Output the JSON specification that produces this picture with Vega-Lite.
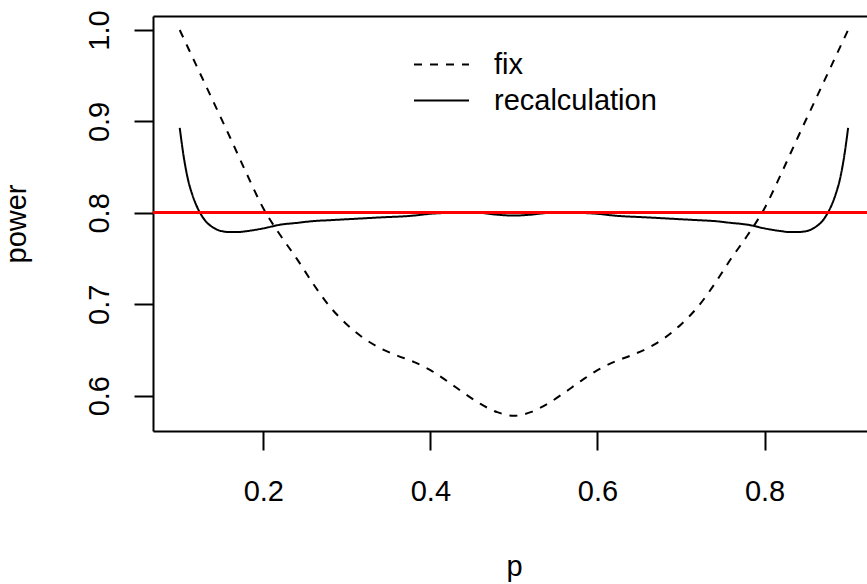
{
  "$schema": "https://vega.github.io/schema/vega-lite/v6.json",
  "width": 714,
  "height": 415,
  "autosize": {"type": "none"},
  "padding": {"left": 153, "top": 16, "right": 0, "bottom": 153},
  "background": "white",
  "config": {
    "view": {"stroke": null},
    "font": "Liberation Sans",
    "axis": {
      "grid": false,
      "domainColor": "black",
      "domainWidth": 2,
      "tickColor": "black",
      "tickWidth": 2,
      "tickSize": 19,
      "labelFont": "Liberation Sans",
      "labelFontSize": 29,
      "labelColor": "black",
      "titleFont": "Liberation Sans",
      "titleFontSize": 29,
      "titleColor": "black",
      "titleFontWeight": "normal",
      "labelFlush": false,
      "labelOverlap": false
    },
    "legend": {
      "labelFont": "Liberation Sans"
    }
  },
  "data": {
    "values": [
      {"p": 0.10, "power": 1.000, "method": "fix"},
      {"p": 0.12, "power": 0.961, "method": "fix"},
      {"p": 0.14, "power": 0.922, "method": "fix"},
      {"p": 0.16, "power": 0.883, "method": "fix"},
      {"p": 0.18, "power": 0.843, "method": "fix"},
      {"p": 0.20, "power": 0.805, "method": "fix"},
      {"p": 0.22, "power": 0.776, "method": "fix"},
      {"p": 0.24, "power": 0.750, "method": "fix"},
      {"p": 0.26, "power": 0.722, "method": "fix"},
      {"p": 0.28, "power": 0.697, "method": "fix"},
      {"p": 0.30, "power": 0.678, "method": "fix"},
      {"p": 0.32, "power": 0.663, "method": "fix"},
      {"p": 0.34, "power": 0.652, "method": "fix"},
      {"p": 0.36, "power": 0.644, "method": "fix"},
      {"p": 0.38, "power": 0.637, "method": "fix"},
      {"p": 0.40, "power": 0.628, "method": "fix"},
      {"p": 0.42, "power": 0.616, "method": "fix"},
      {"p": 0.44, "power": 0.603, "method": "fix"},
      {"p": 0.46, "power": 0.591, "method": "fix"},
      {"p": 0.48, "power": 0.582, "method": "fix"},
      {"p": 0.50, "power": 0.578, "method": "fix"},
      {"p": 0.52, "power": 0.582, "method": "fix"},
      {"p": 0.54, "power": 0.591, "method": "fix"},
      {"p": 0.56, "power": 0.603, "method": "fix"},
      {"p": 0.58, "power": 0.616, "method": "fix"},
      {"p": 0.60, "power": 0.628, "method": "fix"},
      {"p": 0.62, "power": 0.637, "method": "fix"},
      {"p": 0.64, "power": 0.644, "method": "fix"},
      {"p": 0.66, "power": 0.652, "method": "fix"},
      {"p": 0.68, "power": 0.663, "method": "fix"},
      {"p": 0.70, "power": 0.678, "method": "fix"},
      {"p": 0.72, "power": 0.697, "method": "fix"},
      {"p": 0.74, "power": 0.722, "method": "fix"},
      {"p": 0.76, "power": 0.750, "method": "fix"},
      {"p": 0.78, "power": 0.776, "method": "fix"},
      {"p": 0.80, "power": 0.805, "method": "fix"},
      {"p": 0.82, "power": 0.843, "method": "fix"},
      {"p": 0.84, "power": 0.883, "method": "fix"},
      {"p": 0.86, "power": 0.922, "method": "fix"},
      {"p": 0.88, "power": 0.961, "method": "fix"},
      {"p": 0.90, "power": 1.000, "method": "fix"},
      {"p": 0.100, "power": 0.893, "method": "recalculation"},
      {"p": 0.105, "power": 0.860, "method": "recalculation"},
      {"p": 0.110, "power": 0.836, "method": "recalculation"},
      {"p": 0.115, "power": 0.820, "method": "recalculation"},
      {"p": 0.120, "power": 0.808, "method": "recalculation"},
      {"p": 0.125, "power": 0.799, "method": "recalculation"},
      {"p": 0.130, "power": 0.792, "method": "recalculation"},
      {"p": 0.140, "power": 0.784, "method": "recalculation"},
      {"p": 0.150, "power": 0.780, "method": "recalculation"},
      {"p": 0.160, "power": 0.779, "method": "recalculation"},
      {"p": 0.170, "power": 0.779, "method": "recalculation"},
      {"p": 0.180, "power": 0.780, "method": "recalculation"},
      {"p": 0.200, "power": 0.783, "method": "recalculation"},
      {"p": 0.220, "power": 0.787, "method": "recalculation"},
      {"p": 0.240, "power": 0.789, "method": "recalculation"},
      {"p": 0.260, "power": 0.791, "method": "recalculation"},
      {"p": 0.280, "power": 0.792, "method": "recalculation"},
      {"p": 0.300, "power": 0.793, "method": "recalculation"},
      {"p": 0.340, "power": 0.795, "method": "recalculation"},
      {"p": 0.380, "power": 0.797, "method": "recalculation"},
      {"p": 0.400, "power": 0.799, "method": "recalculation"},
      {"p": 0.420, "power": 0.800, "method": "recalculation"},
      {"p": 0.440, "power": 0.801, "method": "recalculation"},
      {"p": 0.460, "power": 0.800, "method": "recalculation"},
      {"p": 0.480, "power": 0.798, "method": "recalculation"},
      {"p": 0.500, "power": 0.797, "method": "recalculation"},
      {"p": 0.520, "power": 0.798, "method": "recalculation"},
      {"p": 0.540, "power": 0.800, "method": "recalculation"},
      {"p": 0.560, "power": 0.801, "method": "recalculation"},
      {"p": 0.580, "power": 0.800, "method": "recalculation"},
      {"p": 0.600, "power": 0.799, "method": "recalculation"},
      {"p": 0.620, "power": 0.797, "method": "recalculation"},
      {"p": 0.660, "power": 0.795, "method": "recalculation"},
      {"p": 0.700, "power": 0.793, "method": "recalculation"},
      {"p": 0.720, "power": 0.792, "method": "recalculation"},
      {"p": 0.740, "power": 0.791, "method": "recalculation"},
      {"p": 0.760, "power": 0.789, "method": "recalculation"},
      {"p": 0.780, "power": 0.787, "method": "recalculation"},
      {"p": 0.800, "power": 0.783, "method": "recalculation"},
      {"p": 0.820, "power": 0.780, "method": "recalculation"},
      {"p": 0.830, "power": 0.779, "method": "recalculation"},
      {"p": 0.840, "power": 0.779, "method": "recalculation"},
      {"p": 0.850, "power": 0.780, "method": "recalculation"},
      {"p": 0.860, "power": 0.784, "method": "recalculation"},
      {"p": 0.870, "power": 0.792, "method": "recalculation"},
      {"p": 0.875, "power": 0.799, "method": "recalculation"},
      {"p": 0.880, "power": 0.808, "method": "recalculation"},
      {"p": 0.885, "power": 0.820, "method": "recalculation"},
      {"p": 0.890, "power": 0.836, "method": "recalculation"},
      {"p": 0.895, "power": 0.860, "method": "recalculation"},
      {"p": 0.900, "power": 0.893, "method": "recalculation"}
    ]
  },
  "layer": [
    {
      "mark": {"type": "line", "color": "black", "strokeWidth": 2, "interpolate": "monotone"},
      "encoding": {
        "x": {
          "field": "p", "type": "quantitative",
          "scale": {"domain": [0.068, 0.9226], "nice": false, "zero": false},
          "axis": {
            "orient": "bottom",
            "values": [0.2, 0.4, 0.6, 0.8],
            "format": ".1f",
            "labelBaseline": "alphabetic",
            "labelPadding": 50,
            "title": "p",
            "titleX": 361,
            "titleY": 144,
            "titleBaseline": "alphabetic",
            "titleAlign": "center"
          }
        },
        "y": {
          "field": "power", "type": "quantitative",
          "scale": {"domain": [0.5614, 1.0153], "nice": false, "zero": false},
          "axis": {
            "values": [0.6, 0.7, 0.8, 0.9, 1.0],
            "format": ".1f",
            "labelAngle": -90,
            "labelAlign": "center",
            "labelBaseline": "alphabetic",
            "labelPadding": 26,
            "title": "power",
            "titleAngle": -90,
            "titleX": -128,
            "titleY": 207.5,
            "titleAlign": "center",
            "titleBaseline": "alphabetic"
          }
        },
        "strokeDash": {
          "field": "method", "type": "nominal",
          "scale": {"domain": ["fix", "recalculation"], "range": [[8, 8], [1, 0]]},
          "legend": {
            "orient": "none",
            "legendX": 260,
            "legendY": 34,
            "title": null,
            "symbolType": "stroke",
            "symbolSize": 3025,
            "symbolStrokeWidth": 2,
            "symbolStrokeColor": "black",
            "labelFontSize": 29,
            "labelColor": "black",
            "labelLimit": 0,
            "labelOffset": 24,
            "rowPadding": 6,
            "clipHeight": 29,
            "padding": 0
          }
        }
      }
    },
    {
      "mark": {"type": "rule", "color": "red", "strokeWidth": 2},
      "encoding": {"y": {"datum": 0.8}}
    },
    {
      "mark": {"type": "point", "opacity": 0},
      "encoding": {
        "x": {
          "field": "p", "type": "quantitative",
          "axis": {"orient": "top", "labels": false, "ticks": false, "title": null, "domainWidth": 2}
        }
      }
    }
  ],
  "resolve": {"axis": {"x": "independent"}}
}
